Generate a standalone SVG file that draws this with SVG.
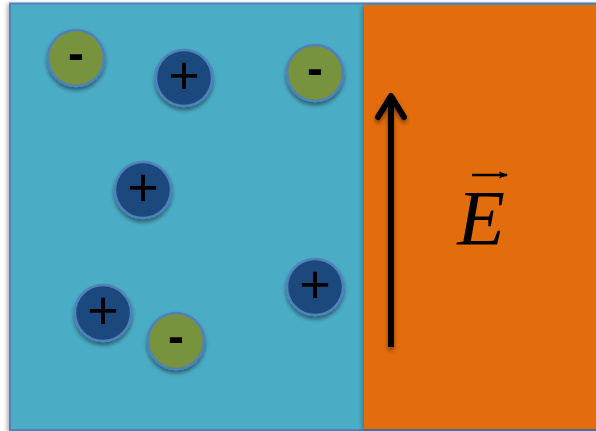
<svg xmlns="http://www.w3.org/2000/svg" width="596" height="431" viewBox="0 0 596 431">
<defs>
<filter id="sh" x="-30%" y="-30%" width="160%" height="170%">
<feGaussianBlur in="SourceAlpha" stdDeviation="2"/>
<feOffset dx="0" dy="3" result="b"/>
<feComponentTransfer><feFuncA type="linear" slope="0.45"/></feComponentTransfer>
<feMerge><feMergeNode/><feMergeNode in="SourceGraphic"/></feMerge>
</filter>
<filter id="shr" x="-5%" y="-5%" width="110%" height="110%">
<feGaussianBlur in="SourceAlpha" stdDeviation="2"/>
<feOffset dx="-2" dy="1"/>
<feComponentTransfer><feFuncA type="linear" slope="0.3"/></feComponentTransfer>
<feMerge><feMergeNode/><feMergeNode in="SourceGraphic"/></feMerge>
</filter>
<marker id="ah" viewBox="0 0 10 10" refX="9" refY="5" markerWidth="12" markerHeight="9" markerUnits="userSpaceOnUse" orient="auto">
<path d="M0,1 L10,5 L0,9 L2,5 Z" fill="#000"/>
</marker>
</defs>
<style>
.pos{fill:#1F497D;stroke:#4F81BD;stroke-width:2.5}
.neg{fill:#77933C;stroke:#4F81BD;stroke-width:2.5}
.sign{font-family:"Liberation Sans",Arial,sans-serif;font-weight:bold;font-size:48px;fill:#000;text-anchor:middle}
.plus{font-family:"Liberation Sans",Arial,sans-serif;font-size:54px;fill:#000;text-anchor:middle}
</style>
<rect id="medium" x="10" y="3.5" width="600" height="426.5" fill="#4BACC6" stroke="#4F81BD" stroke-width="2" filter="url(#shr)"/>
<g id="field-region">
<rect x="364" y="5" width="240" height="424" fill="#E36C0A" filter="url(#shr)"/>
</g>
<g id="n1" filter="url(#sh)"><circle class="neg" cx="76" cy="58" r="28"/><text class="sign" x="76" y="70">-</text></g>
<g id="n2" filter="url(#sh)"><circle class="pos" cx="184" cy="78" r="28"/><text class="plus" x="184" y="94">+</text></g>
<g id="n3" filter="url(#sh)"><circle class="neg" cx="315" cy="73" r="28"/><text class="sign" x="315" y="85">-</text></g>
<g id="n4" filter="url(#sh)"><circle class="pos" cx="143" cy="190" r="28"/><text class="plus" x="143" y="206">+</text></g>
<g id="n5" filter="url(#sh)"><circle class="pos" cx="103" cy="313" r="28"/><text class="plus" x="103" y="329">+</text></g>
<g id="n6" filter="url(#sh)"><circle class="neg" cx="176" cy="341" r="28"/><text class="sign" x="176" y="353">-</text></g>
<g id="n7" filter="url(#sh)"><circle class="pos" cx="315" cy="287" r="28"/><text class="plus" x="315" y="303">+</text></g>
<g id="connectors" filter="url(#sh)">
<path d="M391,347 L391,96" fill="none" stroke="#000" stroke-width="6"/>
<path d="M378,117 L391,96 L404,117" fill="none" stroke="#000" stroke-width="6" stroke-linecap="round" stroke-linejoin="round"/>
</g>
<g id="label">
<line x1="472" y1="175" x2="507" y2="175" stroke="#000" stroke-width="2.5" marker-end="url(#ah)"/>
<text x="481" y="244" font-family="'Liberation Serif','Times New Roman',serif" font-style="italic" font-size="78" text-anchor="middle" fill="#000">E</text>
</g>
</svg>
